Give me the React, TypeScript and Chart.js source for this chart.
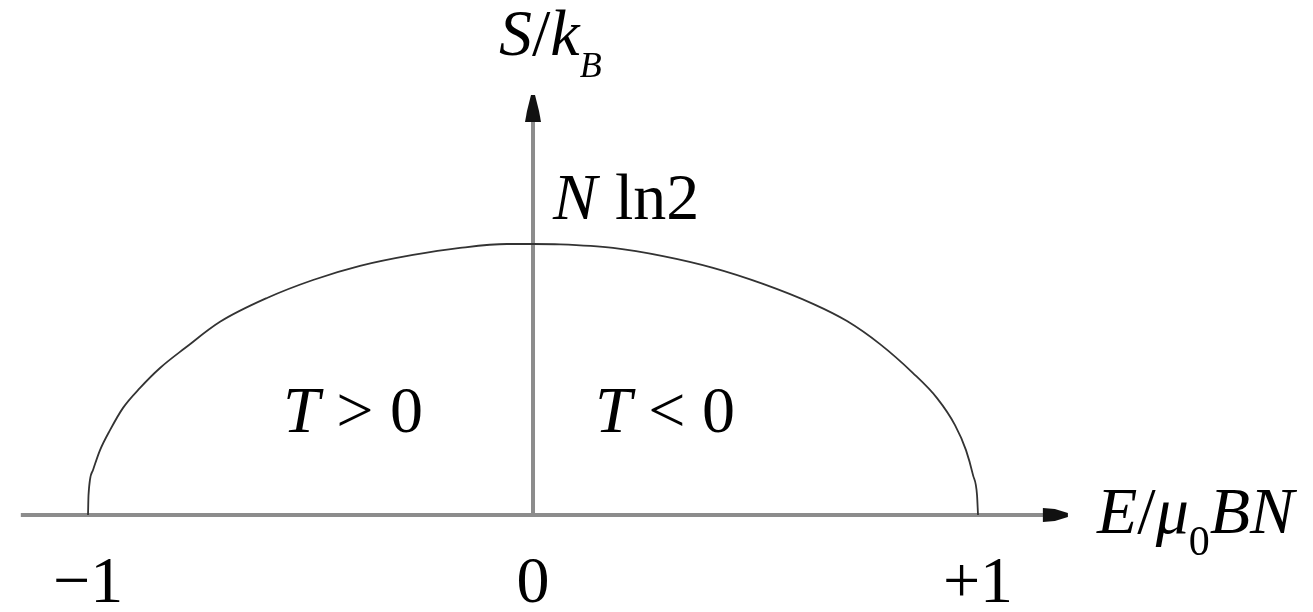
import { useEffect, useRef } from 'react';
import { Chart, registerables } from 'chart.js';

Chart.register(...registerables);

// E / (mu0 B N)
const energy = [
  -1.0, -0.9989, -0.9888, -0.973, -0.9506, -0.9213, -0.8831, -0.8382, -0.782, -0.7034, -0.5978,
  -0.4944, -0.3888, -0.2697, -0.164, -0.0584, 0, 0.0607, 0.1798, 0.2921, 0.4045, 0.5169, 0.6292,
  0.7056, 0.7798, 0.8539, 0.9079, 0.9483, 0.973, 0.9888, 0.9978, 1.0,
];
// S / k_B (in units of N, peak = N ln2)
const entropy = [
  0, 0.051, 0.115, 0.166, 0.217, 0.274, 0.325, 0.376, 0.427, 0.494, 0.555, 0.601, 0.637, 0.665,
  0.683, 0.693, 0.693, 0.692, 0.683, 0.662, 0.632, 0.591, 0.54, 0.496, 0.437, 0.363, 0.299, 0.23,
  0.166, 0.102, 0.051, 0,
];
const tickValues = [-1, 0, 1];
const tickLabels = ['\u22121', '0', '+1'];
const peakValue = 0.693;
const xAxisStart = -1.151;
const xAxisEnd = 1.202;
const yAxisEnd = 1.074;

const SERIF = '"Liberation Serif", "Times New Roman", serif';

type Run = { t: string; it?: boolean; size?: number; dy?: number; dx?: number };

function drawRuns(ctx: CanvasRenderingContext2D, x: number, y: number, runs: Run[]) {
  let cx = x;
  for (const r of runs) {
    const size = r.size ?? 66;
    ctx.font = `${r.it ? 'italic ' : ''}${size}px ${SERIF}`;
    cx += r.dx ?? 0;
    ctx.fillText(r.t, cx, y + (r.dy ?? 0));
    cx += ctx.measureText(r.t).width;
  }
}

const axesPlugin = {
  id: 'physAxes',
  beforeDatasetsDraw(chart: any) {
    const { ctx } = chart;
    const xs = chart.scales.x;
    const ys = chart.scales.y;
    const y0 = ys.getPixelForValue(0);
    const x0 = xs.getPixelForValue(0);
    const xStart = xs.getPixelForValue(xAxisStart);
    const xEnd = xs.getPixelForValue(xAxisEnd);
    const yEnd = ys.getPixelForValue(yAxisEnd);
    ctx.save();
    ctx.strokeStyle = '#8c8c8c';
    ctx.lineWidth = 4;
    ctx.lineCap = 'butt';
    ctx.beginPath();
    ctx.moveTo(xStart, y0);
    ctx.lineTo(xEnd - 20, y0);
    ctx.moveTo(x0, y0 + 2);
    ctx.lineTo(x0, yEnd + 20);
    ctx.stroke();
    ctx.fillStyle = '#111';
    // horizontal arrow
    ctx.beginPath();
    ctx.moveTo(xEnd, y0 - 2);
    ctx.lineTo(xEnd, y0 + 2);
    ctx.lineTo(xEnd - 13, y0 + 6);
    ctx.lineTo(xEnd - 25, y0 + 7);
    ctx.lineTo(xEnd - 25, y0 - 7);
    ctx.lineTo(xEnd - 13, y0 - 6);
    ctx.closePath();
    ctx.fill();
    // vertical arrow
    ctx.beginPath();
    ctx.moveTo(x0 - 2, yEnd);
    ctx.lineTo(x0 + 2, yEnd);
    ctx.lineTo(x0 + 6, yEnd + 16);
    ctx.lineTo(x0 + 8, yEnd + 27);
    ctx.lineTo(x0 - 8, yEnd + 27);
    ctx.lineTo(x0 - 6, yEnd + 16);
    ctx.closePath();
    ctx.fill();
    ctx.restore();
  },
  afterDatasetsDraw(chart: any) {
    const { ctx } = chart;
    const xs = chart.scales.x;
    const ys = chart.scales.y;
    const y0 = ys.getPixelForValue(0);
    const x0 = xs.getPixelForValue(0);
    ctx.save();
    ctx.fillStyle = '#000';
    ctx.textBaseline = 'alphabetic';
    // tick labels
    ctx.textAlign = 'center';
    ctx.font = `66px ${SERIF}`;
    tickValues.forEach((v, i) => {
      ctx.fillText(tickLabels[i], xs.getPixelForValue(v), y0 + 87);
    });
    ctx.textAlign = 'left';
    // y-axis title
    drawRuns(ctx, x0 - 34, 55, [
      { t: 'S', it: true },
      { t: '/' },
      { t: 'k', it: true },
      { t: 'B', it: true, size: 36, dy: 22 },
    ]);
    // x-axis title
    drawRuns(ctx, 1097, y0 + 18, [
      { t: 'E', it: true },
      { t: '/' },
      { t: '\u03bc', it: true },
      { t: '0', size: 42, dy: 22 },
      { t: 'B', it: true },
      { t: 'N', it: true },
    ]);
    // peak label
    const yp = ys.getPixelForValue(peakValue);
    drawRuns(ctx, x0 + 20, yp - 25, [{ t: 'N', it: true }, { t: 'ln2', dx: 18 }]);
    // region labels
    drawRuns(ctx, 283, 432, [{ t: 'T', it: true }, { t: ' > 0' }]);
    drawRuns(ctx, 595, 432, [{ t: 'T', it: true }, { t: ' < 0' }]);
    ctx.restore();
  },
};

export default function App() {
  const ref = useRef<HTMLCanvasElement | null>(null);
  useEffect(() => {
    if (!ref.current) return;
    const chart = new Chart(ref.current, {
      type: 'line',
      data: {
        datasets: [
          {
            data: energy.map((e, i) => ({ x: e, y: entropy[i] })),
            borderColor: '#333333',
            borderWidth: 1.8,
            pointRadius: 0,
            cubicInterpolationMode: 'monotone',
            fill: false,
          },
        ],
      },
      options: {
        animation: false,
        responsive: false,
        layout: { padding: 0 },
        plugins: { legend: { display: false }, tooltip: { enabled: false }, title: { display: false } },
        scales: {
          x: { type: 'linear', min: -1.1978, max: 1.7528, display: false },
          y: { type: 'linear', min: -0.248, max: 1.317, display: false },
        },
      },
      plugins: [axesPlugin],
    });
    return () => chart.destroy();
  }, []);
  return (
    <div style={{ position: 'absolute', left: 0, top: 0, width: 1313, height: 612, background: '#fff' }}>
      <canvas ref={ref} width={1313} height={612} style={{ width: 1313, height: 612 }} />
    </div>
  );
}
